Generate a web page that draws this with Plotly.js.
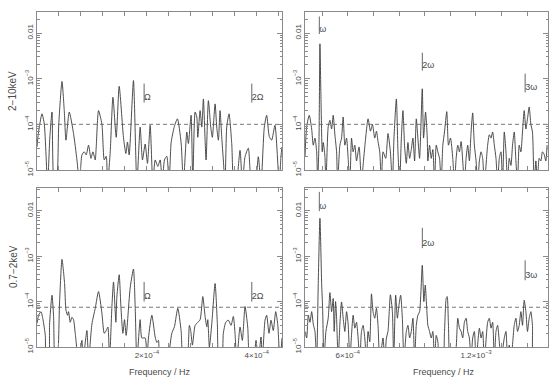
<!DOCTYPE html>
<html><head><meta charset="utf-8">
<script src="https://cdn.plot.ly/plotly-3.0.1.min.js"></script>
<style>html,body{margin:0;padding:0;background:#fff}#plot{width:550px;height:377px}</style>
</head><body><div id="plot"></div>
<script>
// ---------------- DATA ----------------
// Top-left: 2-10 keV, low-frequency range
const tlFreq = [0.000e-4,0.024e-4,0.091e-4,0.133e-4,0.193e-4,0.233e-4,0.273e-4,0.315e-4,0.351e-4,0.396e-4,
0.455e-4,0.496e-4,0.527e-4,0.587e-4,0.665e-4,0.727e-4,0.774e-4,0.818e-4,0.860e-4,0.896e-4,
0.938e-4,0.982e-4,1.018e-4,1.060e-4,1.078e-4,1.120e-4,1.182e-4,1.224e-4,1.260e-4,1.284e-4,
1.333e-4,1.382e-4,1.442e-4,1.496e-4,1.574e-4,1.618e-4,1.647e-4,1.678e-4,1.756e-4,1.818e-4,
1.878e-4,1.920e-4,1.969e-4,2.011e-4,2.060e-4,2.109e-4,2.151e-4,2.200e-4,2.242e-4,2.283e-4,
2.320e-4,2.363e-4,2.405e-4,2.442e-4,2.502e-4,2.556e-4,2.623e-4,2.665e-4,2.727e-4,2.756e-4,
2.805e-4,2.836e-4,2.878e-4,2.909e-4,2.927e-4,2.969e-4,3.000e-4,3.029e-4,3.060e-4,3.078e-4,
3.120e-4,3.163e-4,3.192e-4,3.242e-4,3.272e-4,3.302e-4,3.332e-4,3.363e-4,3.392e-4,3.423e-4,
3.454e-4,3.496e-4,3.545e-4,3.587e-4,3.623e-4,3.696e-4,3.738e-4,3.787e-4,3.847e-4,3.909e-4,
3.969e-4,4.029e-4,4.078e-4,4.138e-4,4.181e-4,4.229e-4,4.272e-4,4.332e-4,4.410e-4,4.441e-4,4.460e-4];
const tlPower = [3.2e-5,6.3e-5,1.7e-4,1.0e-4,5e-6,5.0e-5,1.86e-4,5e-6,5e-6,1.0e-4,
8.7e-4,2.0e-4,4.5e-5,1.86e-4,6.3e-5,1.66e-5,5e-6,2.14e-5,2.5e-5,2.14e-5,
3.5e-5,1.8e-5,2.5e-5,1.66e-5,3.2e-5,2.0e-4,1.0e-4,1.66e-5,2.0e-5,5e-6,
2.5e-5,3.9e-4,5.2e-5,6.8e-4,5.2e-5,2.3e-5,4.1e-5,2.14e-5,9.1e-4,5e-6,
8.7e-5,1.66e-5,3.7e-5,1.4e-5,9.5e-5,5e-6,1.66e-5,1.2e-5,1.66e-5,5e-6,
1.66e-5,2.0e-5,5e-6,4.0e-5,9.1e-5,1.32e-4,4.0e-5,5e-6,6.8e-5,3.8e-5,
1.58e-4,5e-6,1.86e-4,1.45e-4,5.2e-5,2.0e-4,8.7e-5,3.6e-4,4.5e-5,1.66e-5,
3.3e-4,8.7e-5,5.2e-5,2.8e-4,8.7e-5,4.5e-5,2.0e-4,5.2e-5,1.66e-5,5e-6,
8.7e-5,1.7e-4,3.8e-5,5e-6,5e-6,2.7e-5,5e-6,1.95e-5,3.0e-5,5e-6,
5e-6,1.95e-5,5e-6,8.7e-5,1.58e-4,5.4e-5,4.5e-5,9.5e-5,5e-6,2.0e-5,3.2e-5];

// Top-right: 2-10 keV, high-frequency range
const trFreq = [4.000e-4,4.079e-4,4.200e-4,4.312e-4,4.387e-4,4.466e-4,4.545e-4,4.592e-4,4.653e-4,4.699e-4,
4.746e-4,4.807e-4,4.853e-4,4.932e-4,4.979e-4,5.086e-4,5.166e-4,5.245e-4,5.319e-4,5.399e-4,
5.478e-4,5.524e-4,5.632e-4,5.711e-4,5.786e-4,5.865e-4,5.944e-4,6.019e-4,6.098e-4,6.177e-4,
6.252e-4,6.331e-4,6.410e-4,6.531e-4,6.643e-4,6.718e-4,6.797e-4,6.951e-4,7.063e-4,7.156e-4,
7.263e-4,7.343e-4,7.417e-4,7.497e-4,7.576e-4,7.650e-4,7.776e-4,7.883e-4,7.995e-4,8.089e-4,
8.163e-4,8.275e-4,8.350e-4,8.429e-4,8.508e-4,8.583e-4,8.662e-4,8.741e-4,8.816e-4,8.895e-4,
8.974e-4,9.049e-4,9.128e-4,9.207e-4,9.282e-4,9.361e-4,9.487e-4,9.548e-4,9.641e-4,9.721e-4,
9.749e-4,9.828e-4,9.907e-4,9.982e-4,10.061e-4,10.140e-4,10.215e-4,10.294e-4,10.373e-4,10.448e-4,
10.527e-4,10.634e-4,10.713e-4,10.807e-4,10.914e-4,10.993e-4,11.072e-4,11.147e-4,11.226e-4,11.305e-4,
11.380e-4,11.459e-4,11.538e-4,11.613e-4,11.692e-4,11.771e-4,11.846e-4,11.925e-4,12.005e-4,12.079e-4,
12.159e-4,12.238e-4,12.313e-4,12.392e-4,12.546e-4,12.625e-4,12.704e-4,12.779e-4,12.858e-4,12.937e-4,
13.012e-4,13.091e-4,13.170e-4,13.245e-4,13.324e-4,13.403e-4,13.478e-4,13.557e-4,13.636e-4,13.711e-4,
13.790e-4,13.869e-4,13.944e-4,14.023e-4,14.102e-4,14.177e-4,14.256e-4,14.336e-4,14.410e-4,14.490e-4,
14.569e-4,14.643e-4,14.723e-4,14.802e-4,14.876e-4,14.956e-4,15.035e-4,15.109e-4,15.189e-4,15.268e-4,15.329e-4];
const trPower = [2.0e-5,8.9e-5,1.58e-4,7.9e-5,3.5e-5,5.0e-5,2.5e-5,5e-6,4.0e-5,5.8e-3,
4.0e-4,2.5e-5,4.0e-5,2.0e-5,5e-6,8.9e-5,1.23e-4,7.9e-5,1.58e-4,5.9e-5,
2.5e-5,5e-6,3.5e-5,5.0e-5,1.45e-4,3.5e-5,5.0e-5,1.8e-5,5e-6,5.0e-5,
2.5e-5,3.5e-5,1.58e-5,3.2e-5,5e-6,1.26e-5,3.2e-5,1.32e-4,7.1e-5,1.0e-4,
5.0e-5,7.1e-5,4.2e-5,2.5e-5,5e-6,2.5e-5,1.8e-5,6.3e-5,2.5e-5,5e-6,
5.0e-5,3.6e-4,2.5e-5,5e-6,5.0e-5,2.0e-4,3.2e-5,1.4e-5,4.0e-5,1.8e-5,
2.8e-5,5.0e-5,1.58e-5,1.32e-4,5.0e-5,1.8e-5,6.0e-4,5.0e-5,1.86e-4,5.0e-5,
1.58e-5,3.5e-5,1.8e-5,2.8e-5,5e-6,3.5e-5,2.5e-5,1.8e-5,5e-6,3.5e-5,
6.8e-5,1.9e-4,3.5e-5,5.0e-5,1.8e-5,5e-6,1.8e-5,3.5e-5,2.5e-5,4.2e-5,
1.58e-5,5e-6,1.8e-5,3.5e-5,1.58e-5,6.8e-5,1.78e-4,3.5e-5,1.58e-5,5e-6,
1.58e-5,2.5e-5,1.8e-5,5e-6,3.5e-5,5.9e-5,5.0e-5,6.8e-5,3.5e-5,1.8e-5,
5e-6,1.8e-5,2.5e-5,5e-6,6.8e-5,2.5e-5,5e-6,1.8e-5,1.26e-5,3.5e-5,
6.8e-5,1.58e-5,5e-6,3.5e-5,2.5e-5,6.8e-5,2.0e-4,7.9e-5,1.32e-4,2.4e-4,
1.0e-4,6.8e-5,5e-6,1.58e-5,5e-6,1.8e-5,1.58e-5,2.5e-5,2.2e-5,1.58e-5,3.5e-5];

// Bottom-left: 0.7-2 keV, low-frequency range
const blFreq = [0.000e-4,0.029e-4,0.073e-4,0.109e-4,0.151e-4,0.169e-4,0.211e-4,0.229e-4,0.273e-4,0.302e-4,
0.333e-4,0.364e-4,0.411e-4,0.455e-4,0.502e-4,0.527e-4,0.556e-4,0.574e-4,0.605e-4,0.636e-4,
0.665e-4,0.696e-4,0.756e-4,0.818e-4,0.836e-4,0.909e-4,0.938e-4,1.000e-4,1.060e-4,1.120e-4,
1.182e-4,1.224e-4,1.260e-4,1.291e-4,1.320e-4,1.364e-4,1.393e-4,1.436e-4,1.454e-4,1.496e-4,
1.527e-4,1.563e-4,1.593e-4,1.623e-4,1.696e-4,1.756e-4,1.787e-4,1.818e-4,1.878e-4,1.909e-4,
1.969e-4,2.000e-4,2.029e-4,2.091e-4,2.151e-4,2.182e-4,2.211e-4,2.242e-4,2.363e-4,2.454e-4,
2.502e-4,2.563e-4,2.623e-4,2.665e-4,2.727e-4,2.774e-4,2.800e-4,2.829e-4,2.878e-4,2.909e-4,
2.969e-4,3.018e-4,3.060e-4,3.091e-4,3.109e-4,3.138e-4,3.182e-4,3.242e-4,3.283e-4,3.314e-4,
3.363e-4,3.392e-4,3.436e-4,3.483e-4,3.532e-4,3.574e-4,3.605e-4,3.636e-4,3.696e-4,3.738e-4,
3.787e-4,3.836e-4,3.878e-4,3.938e-4,3.987e-4,4.029e-4,4.078e-4,4.101e-4,4.151e-4,4.181e-4,
4.223e-4,4.260e-4,4.301e-4,4.345e-4,4.381e-4,4.423e-4,4.460e-4];
const blPower = [3.3e-5,5.0e-5,6.0e-5,4.0e-5,1.8e-5,5e-6,5e-6,3.2e-5,1.38e-4,4.7e-5,
5e-6,5e-6,1.0e-4,8.5e-4,2.5e-4,6.5e-5,5.0e-5,6.0e-5,3.5e-5,4.5e-5,
4.0e-5,2.0e-5,5e-6,1.4e-5,5e-6,2.3e-5,5e-6,3.2e-5,7.1e-5,1.66e-4,
5.5e-5,2.0e-5,2.3e-5,2.75e-5,5e-6,7.9e-5,2.7e-4,3.5e-5,1.26e-4,3.9e-4,
7.9e-5,2.0e-5,4.0e-5,1.8e-5,2.0e-4,5.2e-4,7.9e-5,5e-6,4.0e-5,1.58e-5,
1.58e-5,5e-6,1.58e-5,5.0e-5,1.66e-5,1.26e-5,1.4e-5,5e-6,5e-6,2.0e-5,
2.8e-5,7.1e-5,2.3e-5,5e-6,5e-6,3.0e-5,2.2e-5,1.1e-5,3.0e-5,3.3e-5,
4.0e-5,1.29e-4,4.7e-5,2.8e-5,4.0e-5,1.0e-5,3.3e-5,2.5e-4,3.3e-5,5e-6,
5e-6,2.0e-5,3.5e-5,3.9e-5,3.0e-5,4.7e-5,2.0e-5,5e-6,2.75e-5,1.4e-5,
7.8e-5,2.75e-5,5e-6,5e-6,1.4e-5,5e-6,1.66e-5,5e-6,3.9e-5,5.0e-5,
2.0e-5,3.9e-5,2.3e-5,6.0e-5,3.3e-5,5e-6,1.58e-5];

// Bottom-right: 0.7-2 keV, high-frequency range
const brFreq = [4.000e-4,4.079e-4,4.154e-4,4.233e-4,4.312e-4,4.387e-4,4.466e-4,4.545e-4,4.620e-4,4.699e-4,
4.779e-4,4.825e-4,4.886e-4,4.979e-4,5.086e-4,5.166e-4,5.245e-4,5.319e-4,5.366e-4,5.431e-4,
5.478e-4,5.552e-4,5.632e-4,5.711e-4,5.786e-4,5.865e-4,5.944e-4,6.019e-4,6.098e-4,6.177e-4,
6.252e-4,6.331e-4,6.410e-4,6.485e-4,6.564e-4,6.643e-4,6.718e-4,6.797e-4,6.876e-4,6.951e-4,
7.030e-4,7.110e-4,7.184e-4,7.263e-4,7.343e-4,7.417e-4,7.497e-4,7.650e-4,7.730e-4,7.809e-4,
7.883e-4,7.995e-4,8.089e-4,8.150e-4,8.242e-4,8.322e-4,8.396e-4,8.476e-4,8.555e-4,8.629e-4,
8.741e-4,8.816e-4,8.895e-4,8.974e-4,9.049e-4,9.128e-4,9.207e-4,9.282e-4,9.361e-4,9.487e-4,
9.562e-4,9.627e-4,9.690e-4,9.749e-4,9.828e-4,9.907e-4,9.982e-4,10.061e-4,10.140e-4,10.215e-4,
10.294e-4,10.448e-4,10.527e-4,10.606e-4,10.653e-4,10.713e-4,10.807e-4,10.993e-4,11.147e-4,11.226e-4,
11.305e-4,11.380e-4,11.459e-4,11.538e-4,11.613e-4,11.692e-4,11.771e-4,11.846e-4,11.925e-4,12.005e-4,
12.159e-4,12.238e-4,12.313e-4,12.392e-4,12.546e-4,12.625e-4,12.704e-4,12.779e-4,12.858e-4,12.937e-4,
13.012e-4,13.091e-4,13.170e-4,13.324e-4,13.403e-4,13.478e-4,13.557e-4,13.636e-4,13.790e-4,13.869e-4,
13.944e-4,14.023e-4,14.102e-4,14.177e-4,14.256e-4,14.336e-4,14.410e-4,14.490e-4,14.569e-4,14.643e-4,
14.723e-4,15.329e-4];
const brPower = [2.2e-5,1.58e-5,5.0e-5,3.5e-5,6.0e-5,3.2e-5,2.2e-5,5e-6,2.5e-4,6.8e-3,
2.5e-4,7.1e-5,5e-6,2.2e-5,4.3e-5,1.58e-4,6.0e-5,1.17e-4,2.2e-5,1.0e-4,
4.3e-5,5e-6,3.2e-5,9.8e-5,4.3e-5,2.2e-5,6.0e-5,3.2e-5,5e-6,1.86e-5,
5.0e-5,2.6e-5,3.5e-5,1.58e-5,5e-6,2.2e-5,3.0e-5,1.58e-5,5e-6,2.2e-5,
1.3e-5,1.48e-4,6.0e-5,4.3e-5,7.1e-5,3.0e-5,5e-6,1.58e-5,5e-6,1.58e-5,
2.2e-5,1.41e-4,6.0e-5,5e-6,1.38e-4,4.3e-5,8.3e-5,1.38e-4,4.3e-5,5e-6,
2.2e-5,3.0e-5,1.58e-5,2.2e-5,4.3e-5,5e-6,3.0e-5,5.0e-5,6.0e-5,6.3e-4,
1.0e-4,2.3e-4,7.9e-5,3.0e-5,2.2e-5,1.58e-5,2.2e-5,5e-6,1.8e-5,1.3e-5,
5e-6,5e-6,2.2e-5,1.17e-4,1.29e-4,3.0e-5,5e-6,5e-6,4.3e-5,2.6e-5,
2.2e-5,1.58e-5,3.5e-5,4.3e-5,2.2e-5,1.58e-5,5e-6,1.58e-5,2.2e-5,5e-6,
2.6e-5,1.58e-5,2.2e-5,5e-6,3.5e-5,4.3e-5,2.6e-5,3.5e-5,5e-6,2.2e-5,
3.0e-5,1.3e-5,5e-6,1.58e-5,2.2e-5,5e-6,1.1e-5,5e-6,3.0e-5,4.3e-5,
2.2e-5,3.0e-5,6.0e-5,3.0e-5,1.07e-4,6.0e-5,2.2e-5,4.3e-5,6.0e-5,3.0e-5,
5e-6,5e-6];

// Detection thresholds (dashed lines)
const thresholdHard = 1.0e-4;
const thresholdSoft = 7.5e-5;

// Harmonic markers
const orbitalFreqs = [1.95e-4, 3.91e-4];
const orbitalLabels = ['Ω', '2Ω'];
const spinFreqs = [4.67e-4, 9.49e-4, 1.43e-3];
const spinLabels = ['ω', '2ω', '3ω'];

// Tick labels (labelled ticks) and the unlabelled tick positions
const lowTickVals = [2.0e-4, 4.0e-4];
const lowTickText = ['2×10<sup>−4</sup>', '4×10<sup>−4</sup>'];
const lowMinorVals = [0.4e-4, 0.8e-4, 1.2e-4, 1.6e-4, 2.4e-4, 2.8e-4, 3.2e-4, 3.6e-4, 4.4e-4];
const highTickVals = [6.0e-4, 12.0e-4];
const highTickText = ['6×10<sup>−4</sup>', '1.2×10<sup>−3</sup>'];
const highMinorVals = [4.8e-4, 7.2e-4, 8.4e-4, 9.6e-4, 10.8e-4, 13.2e-4, 14.4e-4];
const yTickVals = [1e-5, 1e-4, 1e-3, 1e-2];
const yTickText = ['10<sup>−5</sup>', '10<sup>−4</sup>', '10<sup>−3</sup>', '0.01'];
const bandLabels = ['2−10keV', '0.7−2keV'];
const xTitle = 'Frequency / Hz';

// ---------------- LAYOUT ----------------
const W = 550, H = 377;
const lowRange = [0, 4.46e-4];
const highRange = [4.0e-4, 1.537e-3];
const colL = [37 / W, 282 / W], colR = [305 / W, 548 / W];
const rowT = [1 - 170 / H, 1 - 12 / H], rowB = [1 - 347 / H, 1 - 188 / H];

const minorY = [];
for (let k = -5; k <= -2; k++) for (let m = 2; m <= 9; m++) minorY.push(m * Math.pow(10, k));

const FONT = 'Liberation Sans, Arial, sans-serif';
const AX = '#8a8a8a';
const TXT = '#4a4a4a';
const LINE = '#3a3a3a';

function xAx(dom, range, tv, tt, mv, showLabels, anchor) {
  return {domain: dom, range: range, type: 'linear', anchor: anchor,
    tickmode: 'array', tickvals: tv, ticktext: tt, showticklabels: showLabels,
    ticks: 'inside', ticklen: 4, tickwidth: 1, tickcolor: AX,
    minor: {tickmode: 'array', tickvals: mv, ticks: 'inside', ticklen: 4, tickwidth: 1, tickcolor: AX, showgrid: false},
    showline: true, linecolor: AX, linewidth: 1, mirror: 'ticks',
    showgrid: false, zeroline: false,
    tickfont: {family: FONT, size: 8, color: TXT}};
}
function yAx(dom, top, anchor) {
  return {domain: dom, type: 'log', range: [-5, top], anchor: anchor,
    tickmode: 'array', tickvals: yTickVals, ticktext: yTickText, tickangle: -90,
    ticks: 'inside', ticklen: 5, tickwidth: 1, tickcolor: AX,
    minor: {tickmode: 'array', tickvals: minorY, ticks: 'inside', ticklen: 2.5, tickcolor: AX, showgrid: false},
    showline: true, linecolor: AX, linewidth: 1, mirror: 'ticks',
    showgrid: false, zeroline: false,
    tickfont: {family: FONT, size: 8, color: TXT}};
}

const panels = [
  {f: tlFreq, p: tlPower, xa: 'x', ya: 'y', range: lowRange, thr: thresholdHard,
   hf: orbitalFreqs, hl: orbitalLabels, spans: [[3.0e-4, 7.8e-4], [3.0e-4, 7.8e-4]]},
  {f: trFreq, p: trPower, xa: 'x2', ya: 'y2', range: highRange, thr: thresholdHard,
   hf: spinFreqs, hl: spinLabels, spans: [[9.5e-3, 2.3e-2], [1.5e-3, 3.7e-3], [5.0e-4, 1.29e-3]]},
  {f: blFreq, p: blPower, xa: 'x3', ya: 'y3', range: lowRange, thr: thresholdSoft,
   hf: orbitalFreqs, hl: orbitalLabels, spans: [[1.0e-4, 2.7e-4], [1.0e-4, 2.7e-4]]},
  {f: brFreq, p: brPower, xa: 'x4', ya: 'y4', range: highRange, thr: thresholdSoft,
   hf: spinFreqs, hl: spinLabels, spans: [[9.8e-3, 2.6e-2], [1.5e-3, 4.2e-3], [2.95e-4, 8.1e-4]]}
];

const traces = [];
panels.forEach(pn => {
  traces.push({x: pn.f, y: pn.p, xaxis: pn.xa, yaxis: pn.ya, type: 'scatter', mode: 'lines',
    line: {color: LINE, width: 0.9, shape: 'spline', smoothing: 0.6}, hoverinfo: 'skip'});
  traces.push({x: pn.range, y: [pn.thr, pn.thr], xaxis: pn.xa, yaxis: pn.ya, type: 'scatter', mode: 'lines',
    line: {color: '#555', width: 0.8, dash: '4px,3px'}, hoverinfo: 'skip'});
  pn.hf.forEach((f, i) => {
    traces.push({x: [f, f], y: pn.spans[i], xaxis: pn.xa, yaxis: pn.ya, type: 'scatter', mode: 'lines',
      line: {color: '#555', width: 0.9}, hoverinfo: 'skip'});
    traces.push({x: [f], y: [pn.spans[i][0]], xaxis: pn.xa, yaxis: pn.ya, type: 'scatter', mode: 'text',
      text: [pn.hl[i]], textposition: 'top right', textfont: {family: FONT, size: 9, color: TXT},
      hoverinfo: 'skip'});
  });
});

const layout = {
  width: W, height: H, showlegend: false,
  margin: {l: 0, r: 0, t: 0, b: 0},
  paper_bgcolor: '#fff', plot_bgcolor: '#fff',
  font: {family: FONT, color: TXT},
  xaxis: xAx(colL, lowRange, lowTickVals, lowTickText, lowMinorVals, false, 'y'),
  yaxis: yAx(rowT, -1.54, 'x'),
  xaxis2: xAx(colR, highRange, highTickVals, highTickText, highMinorVals, false, 'y2'),
  yaxis2: yAx(rowT, -1.54, 'x2'),
  xaxis3: xAx(colL, lowRange, lowTickVals, lowTickText, lowMinorVals, true, 'y3'),
  yaxis3: yAx(rowB, -1.5, 'x3'),
  xaxis4: xAx(colR, highRange, highTickVals, highTickText, highMinorVals, true, 'y4'),
  yaxis4: yAx(rowB, -1.5, 'x4'),
  annotations: [
    {text: bandLabels[0], xref: 'paper', yref: 'paper', x: 12 / W, y: 1 - 91 / H, textangle: -90,
     showarrow: false, xanchor: 'center', yanchor: 'middle', font: {family: FONT, size: 10, color: TXT}},
    {text: bandLabels[1], xref: 'paper', yref: 'paper', x: 13 / W, y: 1 - 267 / H, textangle: -90,
     showarrow: false, xanchor: 'center', yanchor: 'middle', font: {family: FONT, size: 10, color: TXT}},
    {text: xTitle, xref: 'paper', yref: 'paper', x: 160 / W, y: 1 - 372 / H,
     showarrow: false, xanchor: 'center', yanchor: 'middle', font: {family: FONT, size: 9, color: TXT}},
    {text: xTitle, xref: 'paper', yref: 'paper', x: 444 / W, y: 1 - 372 / H,
     showarrow: false, xanchor: 'center', yanchor: 'middle', font: {family: FONT, size: 9, color: TXT}}
  ]
};

Plotly.newPlot('plot', traces, layout, {staticPlot: true, displayModeBar: false});
</script>
</body></html>
